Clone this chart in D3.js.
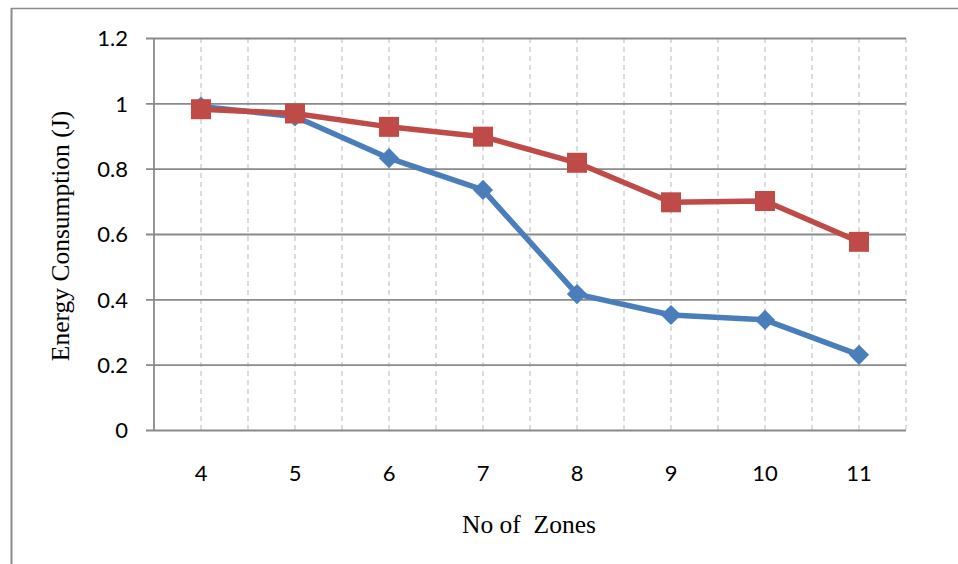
<!DOCTYPE html>
<html>
<head>
<meta charset="utf-8">
<script src="https://cdn.jsdelivr.net/npm/d3@7"></script>
<style>
  html, body { margin: 0; padding: 0; background: #fff; }
  svg { display: block; }
</style>
</head>
<body>
<svg id="chart" width="958" height="564"></svg>
<script>
// Number of zones on the x axis
const zones = ["4", "5", "6", "7", "8", "9", "10", "11"];
// Energy consumption per zone count (J)
const seriesBlue = [0.99, 0.96, 0.832, 0.735, 0.416, 0.352, 0.337, 0.23];
const seriesRed  = [0.982, 0.969, 0.928, 0.898, 0.818, 0.697, 0.701, 0.576];
// Value axis ticks
const yTicks = [0, 0.2, 0.4, 0.6, 0.8, 1, 1.2];
const yTickLabels = ["0", "0.2", "0.4", "0.6", "0.8", "1", "1.2"];

const svg = d3.select("#chart");
const plot = { left: 154, right: 906, top: 38, bottom: 430 };

// Outer frame: top and left edges
svg.append("line").attr("x1", 11).attr("x2", 958).attr("y1", 8.5).attr("y2", 8.5)
  .attr("stroke", "#8c8c8c").attr("stroke-width", 1.5);
svg.append("line").attr("x1", 11.5).attr("x2", 11.5).attr("y1", 8).attr("y2", 564)
  .attr("stroke", "#8c8c8c").attr("stroke-width", 2);

const x = d3.scaleBand().domain(zones).range([plot.left, plot.right]).padding(0);
const y = d3.scaleLinear().domain([0, 1.2]).range([plot.bottom, plot.top]);

// Vertical dashed gridlines at category centres and boundaries
const half = x.bandwidth() / 2;
const vLines = [];
zones.forEach(z => {
  vLines.push(x(z) + half);
  vLines.push(x(z) + x.bandwidth());
});
svg.append("g").selectAll("line").data(vLines).join("line")
  .attr("x1", d => d).attr("x2", d => d)
  .attr("y1", plot.top).attr("y2", plot.bottom)
  .attr("stroke", "#c6c6c6").attr("stroke-width", 1.2)
  .attr("stroke-dasharray", "5,4");

// Horizontal gridlines with tick marks reaching left of the axis
const yAxis = d3.axisLeft(y).tickValues(yTicks)
  .tickFormat((d, i) => yTickLabels[i])
  .tickSize(-(plot.right - plot.left)).tickSizeOuter(0);
const gy = svg.append("g").attr("transform", `translate(${plot.left},0)`).call(yAxis);
gy.select(".domain").remove();
gy.selectAll(".tick line").attr("stroke", "#8a8a8a").attr("stroke-width", 1.8)
  .attr("x1", -8);
gy.selectAll(".tick text")
  .attr("font-family", "Lato, 'Open Sans', sans-serif").attr("font-size", 22)
  .attr("fill", "#000").attr("x", -26).attr("dy", "0.35em");

// Left axis line
svg.append("line").attr("x1", plot.left).attr("x2", plot.left)
  .attr("y1", plot.top).attr("y2", plot.bottom + 1)
  .attr("stroke", "#8a8a8a").attr("stroke-width", 1.8);

// Category axis labels
const xAxis = d3.axisBottom(x).tickSize(0).tickPadding(0);
const gx = svg.append("g").attr("transform", `translate(0,${plot.bottom})`).call(xAxis);
gx.select(".domain").remove();
gx.selectAll(".tick text")
  .attr("font-family", "Lato, 'Open Sans', sans-serif").attr("font-size", 22)
  .attr("fill", "#000").attr("y", 43).attr("dy", "0.35em");

// Axis titles
svg.append("text")
  .attr("transform", `translate(69,236) rotate(-90)`)
  .attr("text-anchor", "middle")
  .attr("font-family", "'Liberation Serif', 'Times New Roman', serif")
  .attr("font-size", 25.5).attr("fill", "#000")
  .text("Energy Consumption (J)");
svg.append("text")
  .attr("x", 529).attr("y", 533)
  .attr("text-anchor", "middle")
  .attr("font-family", "'Liberation Serif', 'Times New Roman', serif")
  .attr("font-size", 25.5).attr("fill", "#000")
  .attr("xml:space", "preserve")
  .style("white-space", "pre")
  .text("No of  Zones");

const cx = z => x(z) + half;
const line = d3.line().x(d => cx(d.z)).y(d => y(d.v));
const blueData = zones.map((z, i) => ({ z, v: seriesBlue[i] }));
const redData = zones.map((z, i) => ({ z, v: seriesRed[i] }));

// Blue series with diamond markers
svg.append("path").datum(blueData).attr("d", line)
  .attr("fill", "none").attr("stroke", "#4a7ebb").attr("stroke-width", 5.5)
  .attr("stroke-linejoin", "round");
svg.append("g").selectAll("path").data(blueData).join("path")
  .attr("d", d3.symbol().type(d3.symbolDiamond2).size(260)())
  .attr("transform", d => `translate(${cx(d.z)},${y(d.v)})`)
  .attr("fill", "#4a7ebb");

// Red series with square markers
svg.append("path").datum(redData).attr("d", line)
  .attr("fill", "none").attr("stroke", "#be4b48").attr("stroke-width", 5.5)
  .attr("stroke-linejoin", "round");
svg.append("g").selectAll("rect").data(redData).join("rect")
  .attr("x", d => cx(d.z) - 10).attr("y", d => y(d.v) - 10)
  .attr("width", 20).attr("height", 20)
  .attr("fill", "#be4b48");
</script>
</body>
</html>
